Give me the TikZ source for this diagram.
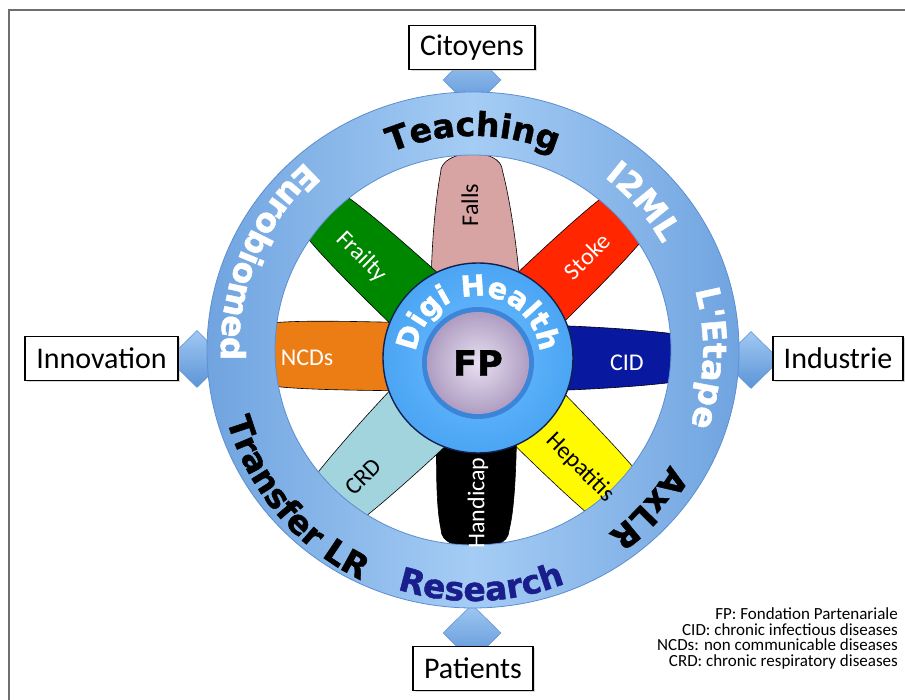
\documentclass[tikz,border=0pt]{standalone}
\usepackage{fontspec}
\setmainfont{Carlito}
\newfontfamily\heavyfam{DejaVu Sans}[BoldFeatures={FakeBold=1.3}]
\usetikzlibrary{positioning,shapes.geometric,decorations.text,calc,shadows}

\definecolor{ringblue}{RGB}{165,204,244}
\definecolor{ringside}{RGB}{112,164,224}
\definecolor{ringedge}{RGB}{92,142,208}
\definecolor{linklight}{RGB}{160,200,242}
\definecolor{linkdark}{RGB}{92,148,215}
\definecolor{hublight}{RGB}{110,190,255}
\definecolor{hubblue}{RGB}{40,140,232}
\definecolor{hubnavy}{RGB}{18,32,80}
\definecolor{fpshadow}{RGB}{40,105,195}
\definecolor{fplight}{RGB}{232,224,242}
\definecolor{fpdark}{RGB}{118,90,145}
\definecolor{fallspink}{RGB}{216,163,163}
\definecolor{stokered}{RGB}{255,38,0}
\definecolor{cidnavy}{RGB}{8,25,160}
\definecolor{hepyellow}{RGB}{255,250,0}
\definecolor{crdblue}{RGB}{162,212,222}
\definecolor{ncdorange}{RGB}{235,125,20}
\definecolor{frailgreen}{RGB}{0,135,0}
\definecolor{researchblue}{RGB}{25,30,140}
\definecolor{framegray}{RGB}{110,110,110}

\pgfdeclareradialshading{fpglow}{\pgfpoint{0bp}{0bp}}{color(0bp)=(fplight); color(50bp)=(fpdark); color(60bp)=(fpdark)}
\pgfdeclareradialshading{hubglow}{\pgfpoint{0bp}{0bp}}{color(0bp)=(hublight); color(50bp)=(hubblue); color(60bp)=(hubblue)}

\newcommand\ringfont{\heavyfam\bfseries\fontsize{33}{36}\selectfont}
\newcommand\hubfont{\heavyfam\bfseries\fontsize{29}{30}\selectfont}

\newcommand\petal[5]{%
  \begin{scope}[shift={(hub)}, rotate=#1]
    \draw[petal, fill=#2] (45,-#3) .. controls (100,-#3) and (#5-26,-#4-6) .. (#5,-#4)
      .. controls (#5+25,-#4) and (#5+25,#4) .. (#5,#4)
      .. controls (#5-26,#4+6) and (100,#3) .. (45,#3) -- cycle;
  \end{scope}}

\tikzset{
  outbox/.style={draw=black, line width=1.2pt, fill=white, inner sep=0pt,
    minimum height=44pt, font=\fontsize{30}{32}\selectfont,
    drop shadow={shadow xshift=1.5pt, shadow yshift=-1.5pt, fill=black!30}},
  link/.style={diamond, draw=ringedge, line width=.5pt, top color=linklight,
    bottom color=linkdark, inner sep=0pt, minimum width=58pt, minimum height=57pt},
  petal/.style={draw=black, line width=.6pt},
  petlabel/.style={font=\fontsize{24}{26}\selectfont, inner sep=0pt},
  ringtext/.style={decorate, decoration={text along path, text align=center,
    text color=#1}},
}

\begin{document}
\begin{tikzpicture}[x=1pt, y=1pt]
\useasboundingbox (0,0) rectangle (905,700);
\coordinate (wheel) at (473,350);
\coordinate (hub) at (478,342);
\coordinate (fpc) at (478,337);

\draw[framegray, line width=2pt] (9,0) -- (9,690) -- (905,690);

\node[link] (linktop) at (472,620) {};
\node[link] (linkleft) at (197,341) {};
\node[link] (linkright) at (751,340) {};
\node[link] (linkbottom) at (472,67) {};

\petal{92}{fallspink}{45}{31}{186}
\petal{44}{stokered}{34}{27}{215}
\petal{0}{cidnavy}{33}{21}{215}
\petal{-45}{hepyellow}{36}{29}{215}
\petal{-91}{black}{40}{34}{172}
\petal{-135}{crdblue}{40}{29}{215}
\petal{179}{ncdorange}{34}{30}{215}
\petal{137}{frailgreen}{35}{27}{215}

\shade[even odd rule, left color=ringside, right color=ringside, middle color=ringblue]
  (wheel) ellipse[x radius=266, y radius=258] (wheel) ellipse[x radius=198, y radius=195];
\draw[ringedge, line width=.8pt] (wheel) ellipse[x radius=266, y radius=258]
  (wheel) ellipse[x radius=198, y radius=195];

\path[ringtext=black, decoration={text={|\ringfont|Teaching}}]
  (wheel) ++(150:214) arc[start angle=150, end angle=30, radius=214];
\path[ringtext=white, decoration={text={|\ringfont|I2ML}}]
  (wheel) ++(101:217) arc[start angle=101, end angle=-19, radius=217];
\path[ringtext=white, decoration={text={|\ringfont|L'Etape}}]
  (wheel) ++(58:230) arc[start angle=58, end angle=-62, radius=230];
\path[ringtext=black, decoration={text={|\ringfont|AxLR}}]
  (wheel) ++(18:228) arc[start angle=18, end angle=-102, radius=228];
\path[ringtext=researchblue, decoration={text={|\ringfont|Research}}]
  (wheel) ++(212:251) arc[start angle=212, end angle=332, radius=251];
\path[ringtext=black, decoration={text={|\ringfont|Transfer LR}}]
  (wheel) ++(160:256) arc[start angle=160, end angle=280, radius=256];
\path[ringtext=white, decoration={text={|\ringfont|Eurobiomed}}]
  (wheel) ++(97:252) arc[start angle=97, end angle=217, radius=252];

\node[petlabel, rotate=90] (falls) at ($(hub)+(93:153)$) {Falls};
\node[petlabel, text=white, rotate=-45] (frailty) at ($(hub)+(139:154)$) {Frailty};
\node[petlabel, text=white, rotate=45] (stoke) at ($(hub)+(43:149)$) {Stoke};
\node[petlabel, text=white] (cid) at ($(hub)+(-2:149)$) {CID};
\node[petlabel, rotate=-45] (hepatitis) at ($(hub)+(-47:150)$) {Hepatitis};
\node[petlabel, text=white, rotate=90] (handicap) at ($(hub)+(-90:145)$) {Handicap};
\node[petlabel, rotate=45] (crd) at ($(hub)+(226:165)$) {CRD};
\node[petlabel, text=white] (ncds) at ($(hub)+(180:171)$) {NCDs};

\shade[shading=hubglow, draw=hubnavy, line width=1.4pt] (hub) circle[radius=95];
\fill[fpshadow, opacity=.6] (fpc) circle[radius=56];
\shade[shading=fpglow] (fpc) circle[radius=51];
\path[ringtext=white, decoration={text={|\hubfont|Digi Health}}]
  (hub) ++(200:62) arc[start angle=200, end angle=-20, radius=62];
\node[font=\heavyfam\bfseries\fontsize{35}{36}\selectfont] (fp) at (fpc) {FP};

\node[outbox, minimum width=126pt] (citoyens) at (472,652.5) {Citoyens};
\node[outbox, minimum width=153pt] (innovation) at (101.5,341.5) {Innovation};
\node[outbox, minimum width=130pt] (industrie) at (838,341.5) {Industrie};
\node[outbox, minimum width=120pt] (patients) at (473,31.5) {Patients};

\node[font=\fontsize{17}{15.5}\selectfont, align=right, anchor=north east, inner sep=0pt]
  (legend) at (898,92) {FP: Fondation Partenariale\\CID: chronic infectious diseases\\
  NCDs: non communicable diseases\\CRD: chronic respiratory diseases};
\end{tikzpicture}
\end{document}
